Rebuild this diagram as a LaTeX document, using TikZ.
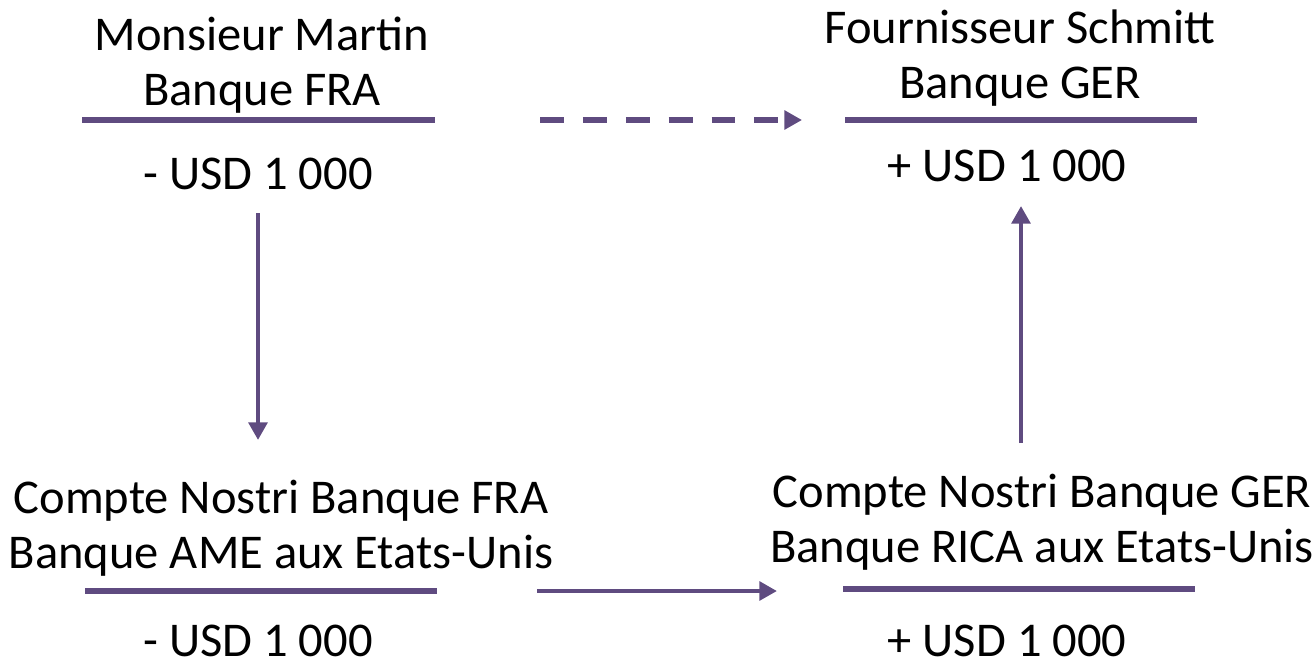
\documentclass[tikz,border=0pt]{standalone}
\usepackage{fontspec}
\setmainfont{Carlito}
\usetikzlibrary{arrows.meta}
\definecolor{violet}{HTML}{5F4B80}

\begin{document}
\begin{tikzpicture}[x=0.025cm,y=-0.025cm,
      every node/.style={font=\fontsize{34.5}{39.5}\selectfont,align=center,inner sep=0pt},
      ledger/.style={draw=violet,line width=4.2pt},
      flow/.style={draw=violet,line width=3.2pt,-{Triangle[length=0.44cm,width=0.46cm]}},
      flowdash/.style={flow,line width=4pt,dash pattern=on 17pt off 13.5pt}]
    \useasboundingbox (0,0) rectangle (1312,664);
    \node (martin) at (262,65) {Monsieur Martin\\Banque FRA};
    \node (martinamt) at (258,174) {- USD 1 000};
    \node (schmitt) at (1020,58) {Fournisseur Schmitt\\Banque GER};
    \node (schmittamt) at (1007,166) {+ USD 1 000};
    \node (ame) at (281,528) {Compte Nostri Banque FRA\\Banque AME aux Etats-Unis};
    \node (ameamt) at (258,641) {- USD 1 000};
    \node (rica) at (1042,522) {Compte Nostri Banque GER\\Banque RICA aux Etats-Unis};
    \node (ricaamt) at (1007,641) {+ USD 1 000};
    \coordinate (m1) at (82,120);   \coordinate (m2) at (435,120);
    \coordinate (s1) at (845,120);  \coordinate (s2) at (1197,120);
    \coordinate (a1) at (85,591);   \coordinate (a2) at (437,591);
    \coordinate (r1) at (843,589);  \coordinate (r2) at (1195,589);
    \draw[ledger] (m1) -- (m2);
    \draw[ledger] (s1) -- (s2);
    \draw[ledger] (a1) -- (a2);
    \draw[ledger] (r1) -- (r2);
    \coordinate (d1) at (540,120);  \coordinate (d2) at (802,120);
    \coordinate (v1) at (258,213);  \coordinate (v2) at (258,440);
    \coordinate (h1) at (537,591);  \coordinate (h2) at (777,591);
    \coordinate (u1) at (1021,443); \coordinate (u2) at (1021,206);
    \draw[flowdash] (d1) -- (d2);
    \draw[flow] (v1) -- (v2);
    \draw[flow] (h1) -- (h2);
    \draw[flow] (u1) -- (u2);
\end{tikzpicture}
\end{document}
